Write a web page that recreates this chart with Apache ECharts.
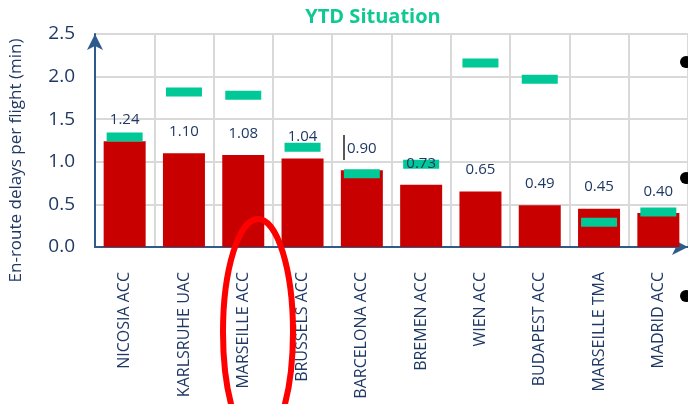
<!DOCTYPE html>
<html>
<head>
<meta charset="utf-8">
<script src="https://cdn.jsdelivr.net/npm/echarts@6/dist/echarts.min.js"></script>
<style>
  html, body { margin: 0; padding: 0; background: #fff; }
  #chart { width: 688px; height: 404px; }
</style>
</head>
<body>
<div id="chart"></div>
<script>
// categories and values
const centres = ['NICOSIA ACC', 'KARLSRUHE UAC', 'MARSEILLE ACC', 'BRUSSELS ACC', 'BARCELONA ACC',
  'BREMEN ACC', 'WIEN ACC', 'BUDAPEST ACC', 'MARSEILLE TMA', 'MADRID ACC'];
const ytdDelay = [1.24, 1.10, 1.08, 1.04, 0.90, 0.73, 0.65, 0.49, 0.45, 0.40];
const targets = [1.29, 1.82, 1.78, 1.17, 0.86, 0.97, 2.16, 1.97, 0.29, 0.41];

const navy = '#1f3864';

var myChart = echarts.init(document.getElementById('chart'));
myChart.setOption({
  animation: false,
  title: {
    text: 'YTD Situation',
    left: 368,
    textAlign: 'center',
    top: 2,
    textStyle: { color: '#0fc993', fontSize: 20, fontWeight: 'bold', fontFamily: 'Open Sans' }
  },
  grid: { left: 93, right: -3, top: 34, bottom: 157 },
  xAxis: {
    type: 'category',
    data: centres,
    axisLine: { lineStyle: { color: '#2e5a8c', width: 2 }, symbol: ['none', 'arrow'], symbolSize: [12, 16] },
    axisTick: { show: false },
    splitLine: { show: true, lineStyle: { color: '#d9d9d9', width: 2 } },
    axisLabel: { rotate: 90, color: navy, fontSize: 16, fontFamily: 'Open Sans', margin: 25 }
  },
  yAxis: {
    type: 'value',
    min: 0,
    max: 2.5,
    interval: 0.5,
    name: 'En-route delays per flight (min)',
    nameLocation: 'middle',
    nameGap: 70,
    nameTextStyle: { color: navy, fontSize: 17, fontFamily: 'Open Sans', padding: [0, 40, 0, 0] },
    axisLine: { show: true, lineStyle: { color: '#2e5a8c', width: 2 }, symbol: ['none', 'arrow'], symbolSize: [12, 16] },
    axisTick: { show: false },
    splitLine: { lineStyle: { color: '#d9d9d9', width: 2 } },
    axisLabel: { color: navy, fontSize: 19, fontFamily: 'Open Sans', margin: 20, formatter: v => v.toFixed(1) }
  },
  series: [
    {
      name: 'YTD',
      type: 'bar',
      data: ytdDelay,
      barWidth: 42,
      itemStyle: { color: '#c80000' },
      z: 2
    },
    {
      name: 'Target',
      type: 'scatter',
      data: targets,
      symbol: 'rect',
      symbolSize: [36, 9],
      itemStyle: { color: '#00c896', opacity: 1 },
      z: 3
    },
    {
      // transparent copy of the bars, only carries the value labels above the target marks
      name: 'YTD labels',
      type: 'bar',
      data: ytdDelay,
      barWidth: 42,
      barGap: '-100%',
      itemStyle: { color: 'rgba(0,0,0,0)' },
      silent: true,
      z: 4,
      label: {
        show: true,
        position: 'top',
        distance: 14,
        color: navy,
        fontSize: 15,
        fontFamily: 'Open Sans',
        formatter: p => p.value.toFixed(2)
      }
    }
  ],
  graphic: [
    {
      type: 'ellipse',
      shape: { cx: 258, cy: 332, rx: 35, ry: 113 },
      style: { fill: 'none', stroke: '#ff0000', lineWidth: 6 },
      z: 100
    },
    { type: 'line', shape: { x1: 344, y1: 135, x2: 344, y2: 160 }, style: { stroke: '#222', lineWidth: 1.5 }, z: 100 },
    { type: 'circle', shape: { cx: 686, cy: 62, r: 6 }, style: { fill: '#000' }, z: 100 },
    { type: 'circle', shape: { cx: 686, cy: 178, r: 6 }, style: { fill: '#000' }, z: 100 },
    { type: 'circle', shape: { cx: 686, cy: 296, r: 6 }, style: { fill: '#000' }, z: 100 }
  ]
});
</script>
</body>
</html>
